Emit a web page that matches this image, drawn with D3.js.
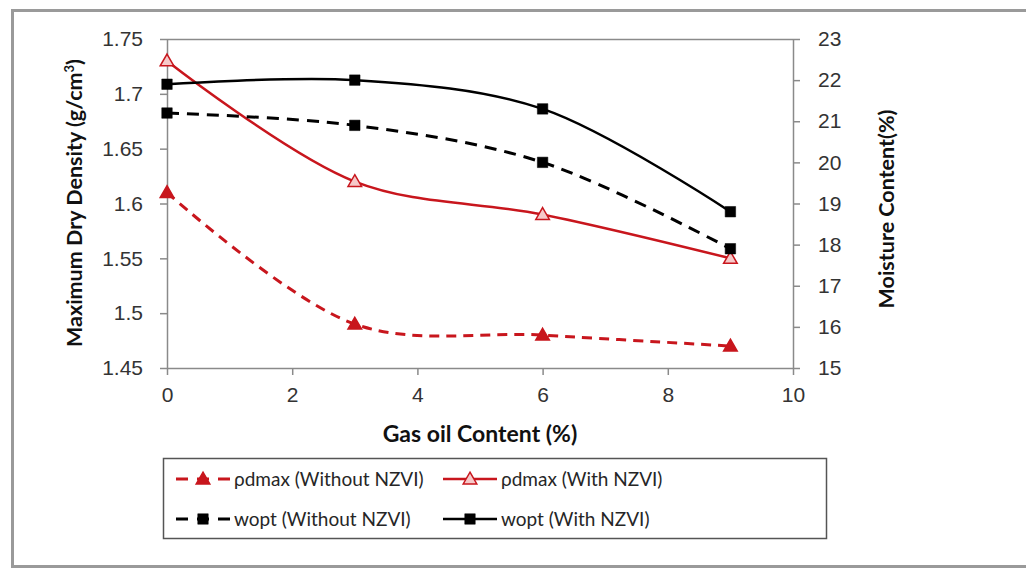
<!DOCTYPE html>
<html>
<head>
<meta charset="utf-8">
<script src="https://cdn.jsdelivr.net/npm/d3@7"></script>
<style>
  html, body { margin: 0; padding: 0; background: #ffffff; }
  svg { display: block; font-family: Lato, "Open Sans", sans-serif; }
</style>
</head>
<body>
<svg id="chart" width="1026" height="569"></svg>
<script>
// Gas oil content (%) on the x axis
const gasOil = [0, 3, 6, 9];

// Maximum dry density (g/cm3), left axis
const rhoWithout = [1.61, 1.49, 1.48, 1.47];
const rhoWith = [1.73, 1.62, 1.59, 1.55];

// Optimum moisture content (%), right axis
const woptWithout = [21.2, 20.9, 20.0, 17.9];
const woptWith = [21.9, 22.0, 21.3, 18.8];

const xTicks = [0, 2, 4, 6, 8, 10];
const leftTicks = [1.45, 1.5, 1.55, 1.6, 1.65, 1.7, 1.75];
const rightTicks = [15, 16, 17, 18, 19, 20, 21, 22, 23];

const seriesNames = [
  "ρdmax (Without NZVI)",
  "ρdmax (With NZVI)",
  "wopt (Without NZVI)",
  "wopt (With NZVI)"
];

const RED = "#c8161d";
const BLACK = "#000000";
const AXIS = "#8a8a8a";

const svg = d3.select("#chart");

// outer frame
svg.append("rect")
  .attr("x", 12.5).attr("y", 10.5)
  .attr("width", 1030).attr("height", 556)
  .attr("fill", "#ffffff")
  .attr("stroke", "#9a9a9a").attr("stroke-width", 3);

const plot = { left: 167, right: 793, top: 39, bottom: 368 };

const x = d3.scaleLinear().domain([0, 10]).range([plot.left, plot.right]);
const yL = d3.scaleLinear().domain([1.45, 1.75]).range([plot.bottom, plot.top]);
const yR = d3.scaleLinear().domain([15, 23]).range([plot.bottom, plot.top]);

// plot area top edge
svg.append("line")
  .attr("x1", plot.left).attr("x2", plot.right)
  .attr("y1", plot.top + 0.5).attr("y2", plot.top + 0.5)
  .attr("stroke", AXIS).attr("stroke-width", 1.5);

function styleAxis(g) {
  g.select(".domain").attr("stroke", AXIS).attr("stroke-width", 1.5);
  g.selectAll(".tick line").attr("stroke", AXIS).attr("stroke-width", 1.5);
  g.selectAll(".tick text")
    .attr("fill", "#333")
    .attr("font-size", 21);
}

svg.append("g")
  .attr("transform", `translate(0,${plot.bottom})`)
  .call(d3.axisBottom(x).tickValues(xTicks).tickSize(7).tickSizeOuter(0).tickPadding(12).tickFormat(d3.format("d")))
  .call(styleAxis);

svg.append("g")
  .attr("transform", `translate(${plot.left},0)`)
  .call(d3.axisLeft(yL).tickValues(leftTicks).tickSize(7).tickSizeOuter(0).tickPadding(17).tickFormat(d => String(+d.toFixed(2))))
  .call(styleAxis);

svg.append("g")
  .attr("transform", `translate(${plot.right},0)`)
  .call(d3.axisRight(yR).tickValues(rightTicks).tickSize(7).tickSizeOuter(0).tickPadding(18).tickFormat(d3.format("d")))
  .call(styleAxis);

// axis titles
svg.append("text")
  .attr("x", 480).attr("y", 442)
  .attr("text-anchor", "middle")
  .attr("font-size", 23).attr("font-weight", "bold").attr("fill", "#111")
  .text("Gas oil Content (%)");

const leftTitle = svg.append("text")
  .attr("transform", "translate(82,203) rotate(-90)")
  .attr("text-anchor", "middle")
  .attr("font-size", 21.5).attr("font-weight", "bold").attr("fill", "#111");
leftTitle.append("tspan").text("Maximum Dry Density (g/cm");
leftTitle.append("tspan").attr("font-size", 13).attr("dy", -8).text("3");
leftTitle.append("tspan").attr("dy", 8).text(")");

svg.append("text")
  .attr("transform", "translate(894,209) rotate(-90)")
  .attr("text-anchor", "middle")
  .attr("font-size", 21.5).attr("font-weight", "bold").attr("fill", "#111")
  .text("Moisture Content(%)");

// series definitions
const series = [
  { name: seriesNames[0], values: rhoWithout, y: yL, color: RED, dash: "10,7", width: 3, marker: "triangle", fill: RED },
  { name: seriesNames[1], values: rhoWith, y: yL, color: RED, dash: null, width: 2.5, marker: "triangle", fill: "#f6c9c9" },
  { name: seriesNames[2], values: woptWithout, y: yR, color: BLACK, dash: "12,8", width: 3, marker: "square", fill: BLACK },
  { name: seriesNames[3], values: woptWith, y: yR, color: BLACK, dash: null, width: 2.5, marker: "square", fill: BLACK }
];

const triangle = d3.symbol().type(d3.symbolTriangle).size(80);
const square = d3.symbol().type(d3.symbolSquare).size(110);

function drawMarker(g, s, cx, cy) {
  const path = s.marker === "triangle" ? triangle() : square();
  g.append("path")
    .attr("d", path)
    .attr("transform", `translate(${cx},${cy + (s.marker === "triangle" ? 1 : 0)})`)
    .attr("fill", s.fill)
    .attr("stroke", s.color)
    .attr("stroke-width", s.marker === "triangle" ? 1.5 : 0.5);
}

const lines = svg.append("g");
series.forEach(s => {
  const line = d3.line()
    .x((d, i) => x(gasOil[i]))
    .y(d => s.y(d))
    .curve(d3.curveCatmullRom.alpha(0.5));
  lines.append("path")
    .datum(s.values)
    .attr("d", line)
    .attr("fill", "none")
    .attr("stroke", s.color)
    .attr("stroke-width", s.width)
    .attr("stroke-dasharray", s.dash);
});

const markers = svg.append("g");
series.forEach(s => {
  s.values.forEach((v, i) => drawMarker(markers, s, x(gasOil[i]), s.y(v)));
});

// legend
svg.append("rect")
  .attr("x", 163.5).attr("y", 458.5)
  .attr("width", 663).attr("height", 80)
  .attr("fill", "#ffffff")
  .attr("stroke", "#555").attr("stroke-width", 1.5);

const legendPos = [
  { x: 176, y: 479 },
  { x: 443, y: 479 },
  { x: 176, y: 519 },
  { x: 443, y: 519 }
];

series.forEach((s, i) => {
  const p = legendPos[i];
  const g = svg.append("g");
  g.append("line")
    .attr("x1", p.x).attr("x2", p.x + 54)
    .attr("y1", p.y).attr("y2", p.y)
    .attr("stroke", s.color)
    .attr("stroke-width", s.width)
    .attr("stroke-dasharray", s.dash ? "12,9" : null);
  drawMarker(g, s, p.x + 27, p.y);
  g.append("text")
    .attr("x", p.x + 58).attr("y", p.y + 7)
    .attr("font-size", 19).attr("fill", "#262626")
    .text(s.name);
});
</script>
</body>
</html>
